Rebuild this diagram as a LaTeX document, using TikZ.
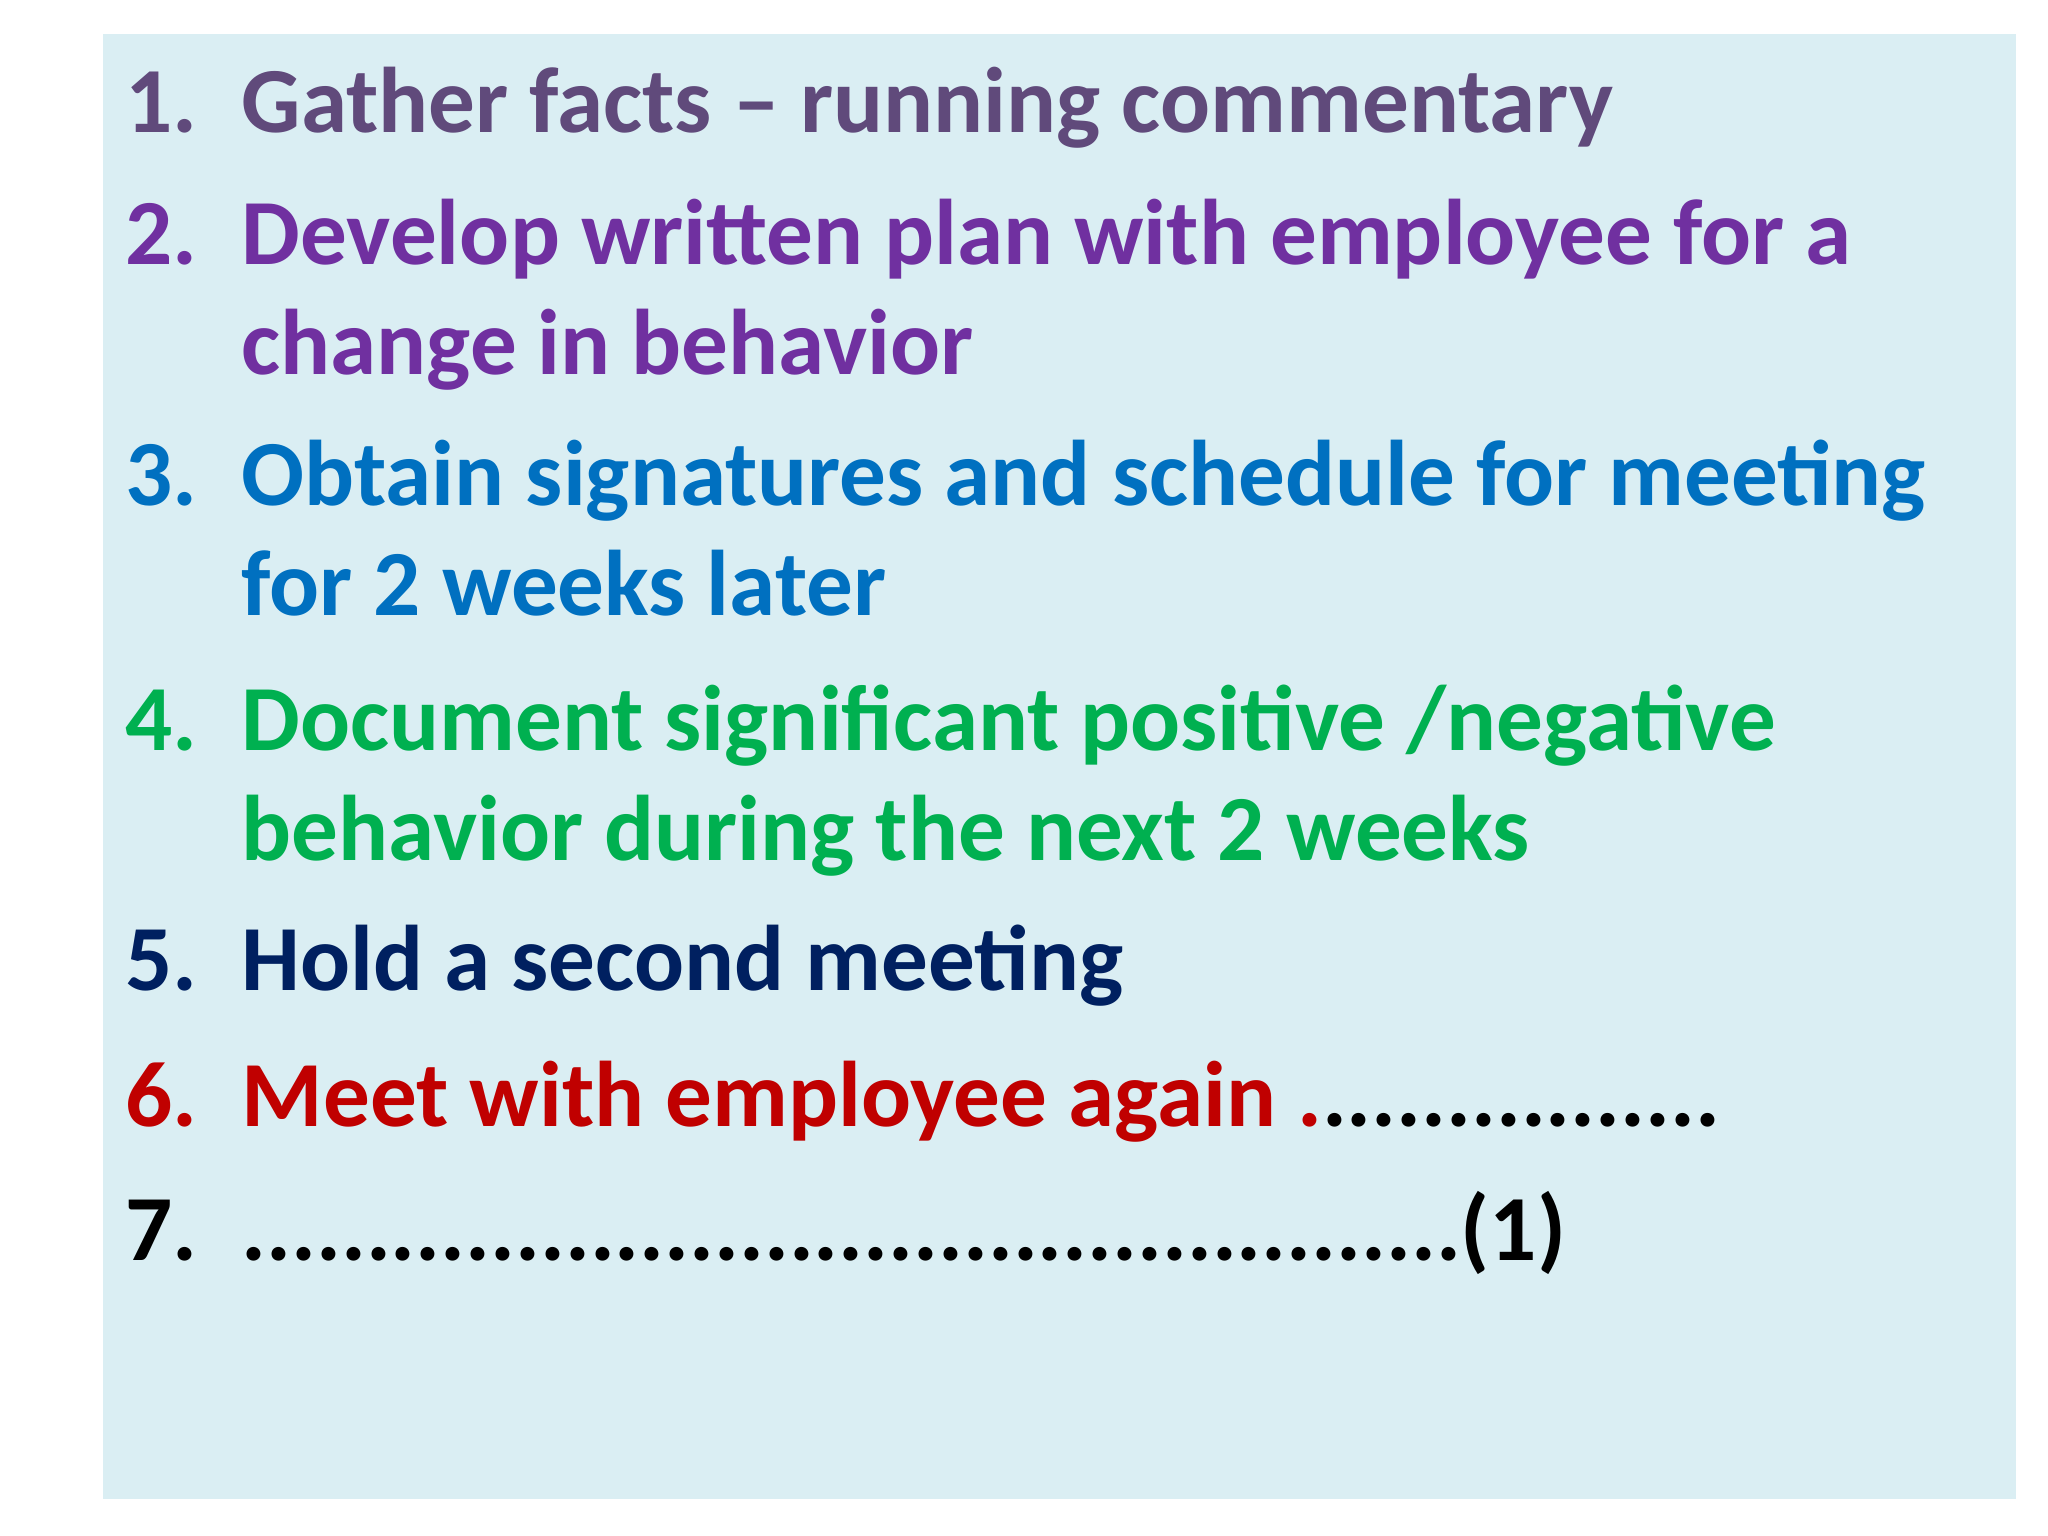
\documentclass[tikz,border=0pt]{standalone}
\usepackage{fontspec}
\setmainfont{Carlito}
\definecolor{bgc}{HTML}{DAEEF3}
\definecolor{c1}{HTML}{604A7B}
\definecolor{c2}{HTML}{7030A0}
\definecolor{c3}{HTML}{0070C0}
\definecolor{c4}{HTML}{00B050}
\definecolor{c5}{HTML}{002060}
\definecolor{c6}{HTML}{C00000}
\begin{document}
\begin{tikzpicture}[x=0.01cm,y=-0.01cm,
  t/.style={anchor=base west,inner sep=0pt,font=\fontsize{26.5}{32}\selectfont\bfseries}]
\useasboundingbox (0,0) rectangle (2048,1536);
\fill[bgc] (103,34) rectangle (2016,1499);
\foreach \n/\y/\c in {1/132/c1,2/264/c2,3/505/c3,4/750/c4,5/990/c5,6/1126/c6,7/1260/black}
  \node[t,text=\c] (n\n) at (125,\y) {\n.};
\node[t,text=c1] (a1) at (241,132) {Gather facts – running commentary};
\node[t,text=c2] (a2) at (241,264) {Develop written plan with employee for a};
\node[t,text=c2] (b2) at (241,374) {change in behavior};
\node[t,text=c3] (a3) at (241,505) {Obtain signatures and schedule for meeting};
\node[t,text=c3] (b3) at (241,615) {for 2 weeks later};
\node[t,text=c4] (a4) at (241,750) {Document significant positive /negative};
\node[t,text=c4] (b4) at (241,860) {behavior during the next 2 weeks};
\node[t,text=c5] (a5) at (241,990) {Hold a second meeting};
\node[t,text=c6] (a6) at (241,1126) {Meet with employee again .\textcolor{black}{................}};
\node[t] (a7) at (241,1260) {.................................................(1)};
\end{tikzpicture}
\end{document}
